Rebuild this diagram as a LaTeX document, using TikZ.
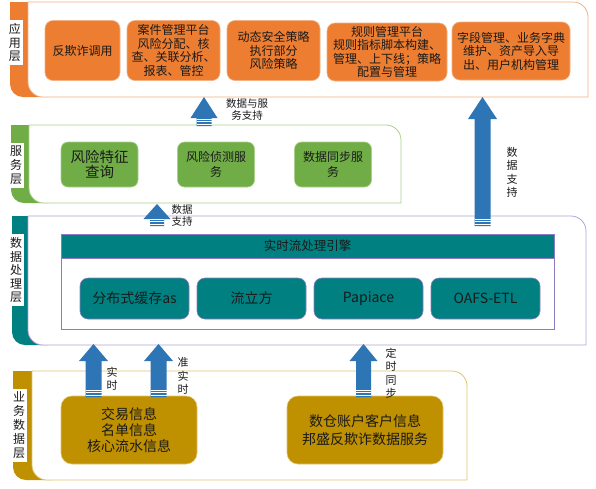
\documentclass[tikz,border=0pt]{standalone}
\usepackage{fontspec}
\setmainfont{Noto Sans CJK SC}
\usetikzlibrary{calc}

\definecolor{cOrange}{HTML}{ED7D31}
\definecolor{cOrangeL}{HTML}{F4B183}
\definecolor{cGreen}{HTML}{70AD47}
\definecolor{cGreenL}{HTML}{A9D18E}
\definecolor{cTeal}{HTML}{008080}
\definecolor{cPurple}{HTML}{8E7CC3}
\definecolor{cPurpleL}{HTML}{B4A2D8}
\definecolor{cGold}{HTML}{BF9000}
\definecolor{cGoldL}{HTML}{E2C36B}
\definecolor{cBlue}{HTML}{2E75B6}
\definecolor{cText}{HTML}{1A1A1A}

% #1 strip left, #2 frame left, #3 top, #4 right, #5 bottom, #6 strip colour, #7 border colour
\newcommand{\layerframe}[7]{%
  \fill[#6] (#1,#3) -- ({#2+20},#3) -- ({#2+20},#5) -- ({#1+13},#5)
     .. controls ({#1+5.8},#5) and (#1,{#5-5.8}) .. (#1,{#5-13}) -- cycle;
  \draw[#7, fill=white, line width=0.8pt] (#2,#3) -- ({#4-15},#3)
     .. controls ({#4-6.7},#3) and (#4,{#3+6.7}) .. (#4,{#3+15}) -- (#4,#5) -- ({#2+15},#5)
     .. controls ({#2+6.7},#5) and (#2,{#5-6.7}) .. (#2,{#5-15}) -- cycle;
}
% #1 start, #2 tip, #3 half shaft, #4 half head, #5 head length
\newcommand{\blockarrow}[5]{%
  \fill[cBlue] ($(#1)+(-#3,0)$) -- ($(#2)+(-#3,#5)$) -- ($(#2)+(-#4,#5)$) -- (#2)
     -- ($(#2)+(#4,#5)$) -- ($(#2)+(#3,#5)$) -- ($(#1)+(#3,0)$) -- cycle;
  \foreach \dd in {2,4.5,7}{\draw[white,line width=0.7pt] ($(#1)+(-#3,-\dd)$) -- ($(#1)+(#3,-\dd)$);}
}

\begin{document}
\begin{tikzpicture}[x=1pt,y=-1pt,
  lbl/.style={fill=white, inner xsep=1.5pt, inner ysep=3pt, align=center, text=cText, font=\fontsize{12}{13.5}\selectfont},
  appbox/.style={fill=cOrange, draw=cOrangeL, line width=0.6pt, rounded corners=8pt, inner sep=0pt, align=center, text=cText, font=\fontsize{12}{13.5}\selectfont},
  svcbox/.style={fill=cGreen, draw=cGreenL, line width=0.6pt, rounded corners=7pt, inner sep=0pt, align=center, text=cText, minimum width=77pt, minimum height=45pt, font=\fontsize{12}{15}\selectfont},
  panelbox/.style={fill=white, draw=cPurple, line width=0.7pt, inner sep=0pt},
  hdrbox/.style={fill=cTeal, draw=cPurple, line width=0.7pt, inner sep=0pt, text=cText, font=\fontsize{12.5}{14}\selectfont},
  procbox/.style={fill=cTeal, draw=cPurple, line width=0.6pt, rounded corners=8pt, inner sep=0pt, text=cText, minimum width=109pt, minimum height=41pt, font=\fontsize{14}{16}\selectfont},
  bizbox/.style={fill=cGold, draw=cGoldL, line width=0.6pt, rounded corners=11pt, inner sep=0pt, align=center, text=cText, minimum height=68pt, font=\fontsize{14}{16}\selectfont},
  alab/.style={align=center, inner sep=0pt, text=cText, font=\fontsize{11}{13.5}\selectfont},
  hlab/.style={align=center, inner sep=0pt, text=cText, font=\fontsize{10.5}{12}\selectfont}
]
\useasboundingbox (0,0) rectangle (596,488);

% layer frames
\layerframe{10}{28}{2}{588}{97}{cOrange}{cOrangeL}
\layerframe{11}{29}{125}{401}{203}{cGreen}{cGreenL}
\layerframe{12}{28}{216}{586}{345}{cTeal}{cPurpleL}
\layerframe{13}{32}{371}{467}{480}{cGold}{cGoldL}

% layer labels
\node[lbl] (lApp) at (15,42.5) {应\\用\\层};
\node[lbl, font=\fontsize{12}{14}\selectfont] (lSvc) at (16,165.5) {服\\务\\层};
\node[lbl] (lProc) at (16,270) {数\\据\\处\\理\\层};
\node[lbl, font=\fontsize{12}{14}\selectfont] (lBiz) at (19,425) {业\\务\\数\\据\\层};

% application layer
\node[appbox, minimum width=75pt, minimum height=60pt] (a1) at (82.5,50.5) {反欺诈调用};
\node[appbox, minimum width=93pt, minimum height=60pt] (a2) at (173.5,50.5) {案件管理平台\\风险分配、核\\查、关联分析、\\报表、管控};
\node[appbox, minimum width=93pt, minimum height=60pt] (a3) at (273.5,50.5) {动态安全策略\\执行部分\\风险策略};
\node[appbox, minimum width=120pt, minimum height=58pt] (a4) at (387,52) {规则管理平台\\规则指标脚本构建、\\管理、上下线；策略\\配置与管理};
\node[appbox, minimum width=118pt, minimum height=58pt] (a5) at (511,51) {字段管理、业务字典\\维护、资产导入导\\出、用户机构管理};

% service layer
\node[svcbox, font=\fontsize{14.5}{15.5}\selectfont] (s1) at (99.5,164.5) {风险特征\\查询};
\node[svcbox] (s2) at (216,164.5) {风险侦测服\\务};
\node[svcbox] (s3) at (333,164.5) {数据同步服\\务};

% data processing layer
\node[panelbox, minimum width=493pt, minimum height=95pt] (panel) at (307.5,281.5) {};
\node[hdrbox, minimum width=493pt, minimum height=24pt] (hdr) at (307.5,246) {实时流处理引擎};
\node[procbox] (p1) at (134.5,298.5) {分布式缓存as};
\node[procbox] (p2) at (251.5,298.5) {流立方};
\node[procbox] (p3) at (368.5,298.5) {Papiace};
\node[procbox] (p4) at (485.5,298.5) {OAFS-ETL};

% business data layer
\node[bizbox, minimum width=136pt] (g1) at (129,430) {交易信息\\名单信息\\核心流水信息};
\node[bizbox, minimum width=156pt, font=\fontsize{14}{17.5}\selectfont] (g2) at (365,430) {数仓账户客户信息\\邦盛反欺诈数据服务};

% arrow end points
\coordinate (A1s) at (204,126);   \coordinate (A1e) at (204,97);
\coordinate (A2s) at (157,226);   \coordinate (A2e) at (157,204);
\coordinate (A3s) at (482.5,226); \coordinate (A3e) at (482.5,97);
\coordinate (A4s) at (93.5,397);  \coordinate (A4e) at (93.5,344);
\coordinate (A5s) at (158.5,397); \coordinate (A5e) at (158.5,344);
\coordinate (A6s) at (363.5,397); \coordinate (A6e) at (363.5,344);

\blockarrow{A1s}{A1e}{7.5}{13.5}{21}
\blockarrow{A2s}{A2e}{7}{13.5}{15}
\blockarrow{A3s}{A3e}{8}{14.5}{22}
\blockarrow{A4s}{A4e}{8}{14.5}{17}
\blockarrow{A5s}{A5e}{8}{14.5}{17}
\blockarrow{A6s}{A6e}{7.5}{14}{17}

% arrow labels
\node[hlab] (t1) at (247,109) {数据与服\\务支持};
\node[hlab] (t2) at (182,215) {数据\\支持};
\node[alab] (t3) at (512,172.5) {数\\据\\支\\持};
\node[alab] (t4) at (112,378.5) {实\\时};
\node[alab] (t5) at (183,376) {准\\实\\时};
\node[alab] (t6) at (391,373) {定\\时\\同\\步};
\end{tikzpicture}
\end{document}
